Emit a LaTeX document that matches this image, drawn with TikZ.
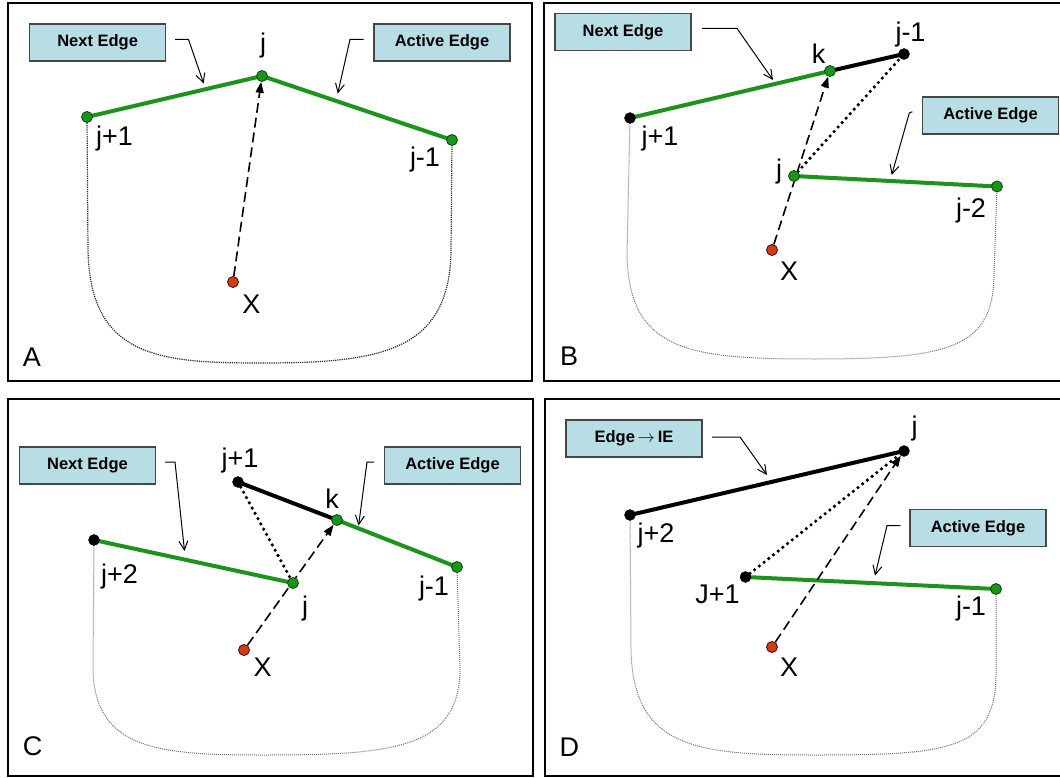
\documentclass[tikz,border=0pt]{standalone}
\usepackage{fontspec}
\setmainfont{Liberation Sans}
\usetikzlibrary{arrows.meta}
\pgfdeclarelayer{bg}
\pgfdeclarelayer{paper}
\pgfsetlayers{paper,bg,main}
\definecolor{edgegreen}{RGB}{28,148,28}
\definecolor{dotred}{RGB}{210,60,20}
\definecolor{boxfill}{RGB}{183,221,229}
\definecolor{boxline}{RGB}{70,70,70}
\tikzset{
 panelframe/.style={draw=black, line width=2.5pt},
 gdot/.style={circle, draw=black!70!green, fill=edgegreen, line width=0.8pt, minimum size=11pt, inner sep=0pt},
 bdot/.style={circle, fill=black, draw=black, minimum size=11pt, inner sep=0pt},
 rdot/.style={circle, draw=black!70!red, fill=dotred, line width=0.8pt, minimum size=11pt, inner sep=0pt},
 lbl/.style={font=\fontsize{27}{30}\selectfont, inner sep=0pt},
 callbox/.style={draw=boxline, fill=boxfill, line width=1.5pt, minimum width=136pt, minimum height=37pt, font=\fontsize{16.5}{18}\selectfont\bfseries, inner sep=0pt},
 calloutarrow/.style={draw=black, line width=1pt, -{Straight Barb[length=9pt,width=9pt]}},
 gedge/.style={draw=edgegreen, line width=4pt},
 kedge/.style={draw=black, line width=4pt},
 probe/.style={draw=black, line width=1.6pt, dash pattern=on 10pt off 5pt, -{Triangle[length=11pt,width=8pt]}},
 dotlink/.style={draw=black, line width=3.6pt, dash pattern=on 0pt off 6pt, line cap=round},
 hull/.style={draw=black!55, line width=1pt, dash pattern=on 1pt off 1pt},
 hulldark/.style={draw=black!85, line width=1.2pt, dash pattern=on 1.2pt off 1pt},
}
\begin{document}
\begin{tikzpicture}[x=1pt,y=-1pt]
\useasboundingbox (0,0) rectangle (1060,778);
\begin{pgfonlayer}{paper}
\fill[white] (0,0) rectangle (1060,778);
\end{pgfonlayer}
\clip (0,0) rectangle (1060,778);

% ---------- frames ----------
\draw[panelframe] (8,3) rectangle (532,381);
\draw[panelframe] (544,3) rectangle (1063,381);
\draw[panelframe] (8,399) rectangle (533,776);
\draw[panelframe] (545,399) rectangle (1063,776);

% ================= Panel A =================
\node[gdot] (aj) at (262,76) {};
\node[gdot] (ajp) at (87,117) {};
\node[gdot] (ajm) at (452,140) {};
\node[rdot] (ax) at (233,282) {};
\node[lbl] (ajL) at (263,46) {j};
\node[lbl] (ajpL) at (114.5,139) {j+1};
\node[lbl] (ajmL) at (425,159.5) {j-1};
\node[lbl] (axL) at (251.5,304) {X};
\node[lbl] (aL) at (32,357) {A};
\node[callbox] (anext) at (97.6,42.6) {Next Edge};
\node[callbox] (aact) at (442,42.6) {Active Edge};
\coordinate (anS) at (175,39.5);
\coordinate (anB) at (188.5,39.5);
\coordinate (anT) at (203.7,83.6);
\coordinate (aaS) at (363.6,39.5);
\coordinate (aaB) at (350,39.5);
\coordinate (aaT) at (337.7,93.6);
\begin{pgfonlayer}{bg}
\draw[hulldark] (ajp) -- (88,250) .. controls (90,358) and (160,363) .. (262,363) .. controls (380,363) and (450,352) .. (451,250) -- (ajm);
\draw[gedge] (ajp.center) -- (aj.center);
\draw[gedge] (aj.center) -- (ajm.center);
\draw[probe] (ax) -- (aj);
\end{pgfonlayer}
\draw[calloutarrow] (anS) -- (anB) -- (anT);
\draw[calloutarrow] (aaS) -- (aaB) -- (aaT);

% ================= Panel B =================
\node[gdot] (bk) at (830,71) {};
\node[bdot] (bjm) at (904,54) {};
\node[bdot] (bjp) at (630,118) {};
\node[gdot] (bj) at (794,176) {};
\node[gdot] (bjmm) at (997,186.5) {};
\node[rdot] (bx) at (772,250) {};
\node[lbl] (bkL) at (818.6,53.5) {k};
\node[lbl] (bjmL) at (910.5,35) {j-1};
\node[lbl] (bjpL) at (660,139) {j+1};
\node[lbl] (bjL) at (779,172) {j};
\node[lbl] (bjmmL) at (971,210.7) {j-2};
\node[lbl] (bxL) at (789,271) {X};
\node[lbl] (bL) at (569,356) {B};
\node[callbox] (bnext) at (623,31.8) {Next Edge};
\node[callbox] (bact) at (990.5,115.7) {Active Edge};
\coordinate (bnS) at (702,28.4);
\coordinate (bnB) at (737,28.4);
\coordinate (bnT) at (773,80);
\coordinate (baS) at (912.3,111.7);
\coordinate (baB) at (909.3,113);
\coordinate (baT) at (891.7,175);
\begin{pgfonlayer}{bg}
\draw[hull] (bjp) -- (627,255) .. controls (629,352) and (690,359) .. (815,359) .. controls (950,359) and (993,348) .. (994,275) -- (bjmm);
\draw[gedge] (bjp.center) -- (bk.center);
\draw[kedge] (bk.center) -- (bjm.center);
\draw[gedge] (bj.center) -- (bjmm.center);
\draw[dotlink] (bj) -- (bjm);
\draw[probe] (bx) -- (bk);
\end{pgfonlayer}
\draw[calloutarrow] (bnS) -- (bnB) -- (bnT);
\draw[calloutarrow] (baS) -- (baB) -- (baT);

% ================= Panel C =================
\node[bdot] (cjp) at (238,482) {};
\node[gdot] (ck) at (337,520) {};
\node[gdot] (cjm) at (457,567) {};
\node[bdot] (cjpp) at (94,540) {};
\node[gdot] (cj) at (293,583) {};
\node[rdot] (cx) at (244,650) {};
\node[lbl] (cjpL) at (240,461) {j+1};
\node[lbl] (ckL) at (332,499) {k};
\node[lbl] (cjmL) at (434,589) {j-1};
\node[lbl] (cjppL) at (119.5,577) {j+2};
\node[lbl] (cjL) at (305,609) {j};
\node[lbl] (cxL) at (262.6,667.6) {X};
\node[lbl] (cL) at (32.7,746) {C};
\node[callbox] (cnext) at (87.5,465.5) {Next Edge};
\node[callbox] (cact) at (452.5,465.5) {Active Edge};
\coordinate (cnS) at (165,462);
\coordinate (cnB) at (175,462);
\coordinate (cnT) at (184.5,551);
\coordinate (caS) at (374,462);
\coordinate (caB) at (367,462);
\coordinate (caT) at (358.6,525.5);
\begin{pgfonlayer}{bg}
\draw[hull] (cjpp) -- (93,670) .. controls (95,750) and (160,755) .. (262,755) .. controls (390,755) and (459,750) .. (460,670) -- (cjm);
\draw[gedge] (cjpp.center) -- (cj.center);
\draw[kedge] (cjp.center) -- (ck.center);
\draw[gedge] (ck.center) -- (cjm.center);
\draw[dotlink] (cjp) -- (cj);
\draw[probe] (cx) -- (ck);
\end{pgfonlayer}
\draw[calloutarrow] (cnS) -- (cnB) -- (cnT);
\draw[calloutarrow] (caS) -- (caB) -- (caT);

% ================= Panel D =================
\node[bdot] (dj) at (904,451) {};
\node[bdot] (djpp) at (630,515) {};
\node[bdot] (djp) at (745.5,577) {};
\node[gdot] (djm) at (996,589) {};
\node[rdot] (dx) at (772,647) {};
\node[lbl] (djL) at (914.5,429) {j};
\node[lbl] (djppL) at (656,535.5) {j+2};
\node[lbl] (djpL) at (717.5,594.7) {J+1};
\node[lbl] (djmL) at (971,609) {j-1};
\node[lbl] (dxL) at (789,667.6) {X};
\node[lbl] (dL) at (569.4,747) {D};
\node[callbox] (die) at (634,438.5) {Edge\,$\rightarrow$\,IE};
\node[callbox] (dact) at (978,528) {Active Edge};
\coordinate (dnS) at (712,437);
\coordinate (dnB) at (740,437);
\coordinate (dnT) at (767,475);
\coordinate (daS) at (900.4,525.5);
\coordinate (daB) at (887,525.5);
\coordinate (daT) at (875,575.6);
\begin{pgfonlayer}{bg}
\draw[hull] (djpp) -- (631,650) .. controls (633,750) and (700,755) .. (815,755) .. controls (950,755) and (995,750) .. (996,675) -- (djm);
\draw[kedge] (djpp.center) -- (dj.center);
\draw[gedge] (djp.center) -- (djm.center);
\draw[dotlink] (djp) -- (dj);
\draw[probe] (dx) -- (dj);
\end{pgfonlayer}
\draw[calloutarrow] (dnS) -- (dnB) -- (dnT);
\draw[calloutarrow] (daS) -- (daB) -- (daT);
\end{tikzpicture}
\end{document}
